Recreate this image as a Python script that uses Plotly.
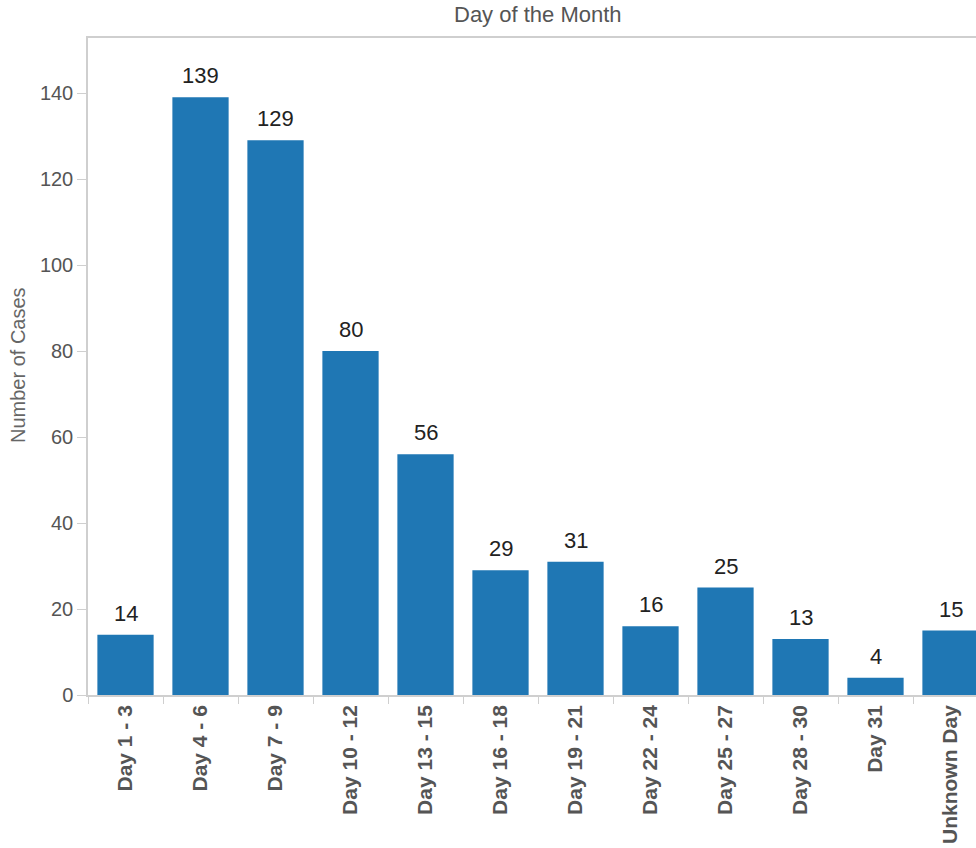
import plotly.graph_objects as go

categories = ["Day 1 - 3", "Day 4 - 6", "Day 7 - 9", "Day 10 - 12", "Day 13 - 15",
              "Day 16 - 18", "Day 19 - 21", "Day 22 - 24", "Day 25 - 27",
              "Day 28 - 30", "Day 31", "Unknown Day"]
cases = [14, 139, 129, 80, 56, 29, 31, 16, 25, 13, 4, 15]
y_ticks = [0, 20, 40, 60, 80, 100, 120, 140]

FONT = "Arial, 'Liberation Sans', Helvetica, sans-serif"

W, H = 976, 848
L, T, B = 88, 38, 153
PW, PH = W - L, H - T - B

fig = go.Figure(go.Bar(
    x=categories, y=cases,
    marker=dict(color="#1f77b4", line=dict(width=0)),
    width=0.75,
    hoverinfo="x+y",
))

for c, v in zip(categories, cases):
    fig.add_annotation(
        x=c, y=v, xref="x", yref="y", text=str(v), showarrow=False,
        xanchor="center", yanchor="bottom", yshift=7,
        font=dict(family=FONT, size=22, color="#222"),
    )

fig.update_layout(
    width=W, height=H,
    margin=dict(l=L, r=0, t=T, b=B),
    plot_bgcolor="white", paper_bgcolor="white",
    showlegend=False,
)

fig.update_xaxes(
    type="category",
    range=[-0.5, 11.34],
    showline=True, linecolor="#cfcfcf", linewidth=1.5, mirror=True,
    ticks="outside", tickson="boundaries", ticklen=7, tickcolor="#cfcfcf",
    tickangle=-90,
    tickfont=dict(family=FONT, size=21, color="#555", weight="bold"),
    showgrid=False,
)

fig.update_yaxes(
    range=[0, 152.8],
    tickvals=y_ticks,
    showline=True, linecolor="#cfcfcf", linewidth=1.5,
    ticks="outside", ticklen=9, tickcolor="#cfcfcf",
    tickfont=dict(family=FONT, size=20, color="#555"),
    showgrid=False, zeroline=False,
)

fig.add_annotation(
    text="Day of the Month", xref="paper", yref="paper",
    x=(538 - L) / PW, y=1 + T / PH,
    xanchor="center", yanchor="top", showarrow=False,
    font=dict(family=FONT, size=22, color="#555"),
)
fig.add_annotation(
    text="Number of Cases", xref="paper", yref="paper",
    x=-(L - 18) / PW, y=(695 - 365) / PH,
    xanchor="center", yanchor="middle", showarrow=False, textangle=-90,
    font=dict(family=FONT, size=20, color="#666"),
)

fig.write_html("out.html", config={"displayModeBar": False},
               post_script="document.body.style.margin='0';")
